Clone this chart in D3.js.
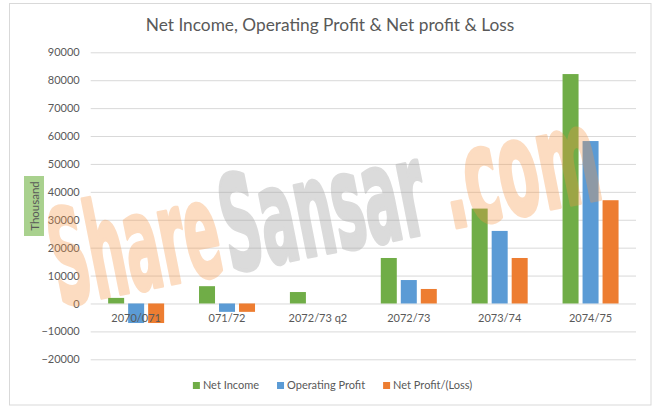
<!DOCTYPE html>
<html>
<head>
<meta charset="utf-8">
<script src="https://cdn.jsdelivr.net/npm/d3@7"></script>
<style>
  body { margin: 0; background: #fff; }
  svg { display: block; font-family: Lato, "Open Sans", sans-serif; }
</style>
</head>
<body>
<svg id="chart"></svg>
<script>
const categories = ["2070/071", "071/72", "2072/73 q2", "2072/73", "2073/74", "2074/75"];
const seriesNames = ["Net Income", "Operating Profit", "Net Profit/(Loss)"];
const netIncome = [2000, 6200, 4100, 16300, 34000, 82200];
const operatingProfit = [-7000, -3000, 0, 8400, 26000, 58200];
const netProfitLoss = [-7000, -3000, 0, 5200, 16300, 37000];
const yTicks = [-20000, -10000, 0, 10000, 20000, 30000, 40000, 50000, 60000, 70000, 80000, 90000];

const colors = ["#70ad47", "#5b9bd5", "#ed7d31"];
const seriesValues = [netIncome, operatingProfit, netProfitLoss];

const width = 660;
const height = 415;
const plot = { left: 90.7, right: 636, top: 52.3, bottom: 359.3 };
const textColor = "#595959";
const gridColor = "#d9d9d9";

const svg = d3.select("#chart")
  .attr("width", width)
  .attr("height", height);

// chart frame
svg.append("rect")
  .attr("x", 9.5)
  .attr("y", 3.5)
  .attr("width", 641.5)
  .attr("height", 401.5)
  .attr("fill", "#fff")
  .attr("stroke", gridColor);

const x = d3.scaleBand()
  .domain(categories)
  .range([plot.left, plot.right]);

const xInner = d3.scaleBand()
  .domain(seriesNames)
  .range([-28, 28])
  .paddingInner(0.2);

const y = d3.scaleLinear()
  .domain([d3.min(yTicks), d3.max(yTicks)])
  .range([plot.bottom, plot.top]);

// gridlines
const grid = svg.append("g")
  .attr("transform", `translate(${plot.left},0)`)
  .call(d3.axisLeft(y).tickValues(yTicks).tickSize(-(plot.right - plot.left)).tickFormat(""));
grid.select(".domain").remove();
grid.selectAll("line").attr("stroke", gridColor);

// y tick labels
const yAxis = svg.append("g")
  .attr("transform", `translate(${plot.left},0)`)
  .call(d3.axisLeft(y).tickValues(yTicks).tickSize(0).tickPadding(11).tickFormat(d3.format("d")));
yAxis.select(".domain").remove();
yAxis.selectAll("text")
  .attr("fill", textColor)
  .style("font-size", "11px")
  .style("font-family", "Lato");

// bars
const bars = [];
categories.forEach((c, i) => {
  seriesNames.forEach((s, j) => {
    bars.push({ category: c, series: s, value: seriesValues[j][i], color: colors[j] });
  });
});

svg.append("g")
  .selectAll("rect")
  .data(bars.filter((d) => d.value !== 0))
  .enter()
  .append("rect")
  .attr("x", (d) => x(d.category) + x.bandwidth() / 2 + xInner(d.series))
  .attr("y", (d) => y(Math.max(0, d.value)))
  .attr("width", xInner.bandwidth())
  .attr("height", (d) => Math.abs(y(d.value) - y(0)))
  .attr("fill", (d) => d.color);

// watermark
const mark = svg.append("g")
  .attr("transform", "translate(60,306) rotate(-11.2)")
  .style("font-family", "'DejaVu Sans Condensed', 'DejaVu Sans', sans-serif")
  .style("font-weight", "bold")
  .style("font-size", "132px");

const markParts = [
  { text: "Share", x: 0, len: 170, fill: "#f79646", opacity: 0.33 },
  { text: "Sansar", x: 174, len: 205, fill: "#a6a6a6", opacity: 0.4 },
  { text: ".com", x: 398, len: 158, fill: "#f79646", opacity: 0.33 }
];
mark.selectAll("text")
  .data(markParts)
  .enter()
  .append("text")
  .attr("x", (d) => d.x)
  .attr("y", 0)
  .attr("textLength", (d) => d.len)
  .attr("lengthAdjust", "spacingAndGlyphs")
  .attr("fill", (d) => d.fill)
  .attr("stroke", (d) => d.fill)
  .attr("stroke-width", 4)
  .attr("stroke-linejoin", "round")
  .attr("opacity", (d) => d.opacity)
  .text((d) => d.text);

// category labels
const xAxis = svg.append("g")
  .attr("transform", `translate(0,${y(0)})`)
  .call(d3.axisBottom(x).tickSize(0).tickPadding(11));
xAxis.select(".domain").remove();
xAxis.selectAll("text")
  .attr("fill", textColor)
  .style("font-size", "11px")
  .style("font-family", "Lato");

// title
svg.append("text")
  .attr("x", 330)
  .attr("y", 31)
  .attr("text-anchor", "middle")
  .attr("fill", textColor)
  .style("font-size", "17.3px")
  .text("Net Income, Operating Profit & Net profit & Loss");

// y axis title
svg.append("rect")
  .attr("x", 24)
  .attr("y", 176)
  .attr("width", 20)
  .attr("height", 60)
  .attr("fill", "#a9d18e");

svg.append("text")
  .attr("transform", "translate(38.5,206) rotate(-90)")
  .attr("text-anchor", "middle")
  .attr("fill", textColor)
  .style("font-size", "11.5px")
  .text("Thousand");

// legend
const legend = svg.append("g").attr("transform", "translate(0,389)");
const items = legend.selectAll("g")
  .data(seriesNames)
  .enter()
  .append("g");

items.append("rect")
  .attr("y", -7)
  .attr("width", 7)
  .attr("height", 7)
  .attr("fill", (d, i) => colors[i]);

items.append("text")
  .attr("x", 10)
  .attr("fill", textColor)
  .style("font-size", "11px")
  .text((d) => d);

const widths = [];
items.each(function () {
  widths.push(10 + this.querySelector("text").getComputedTextLength());
});
const gap = 18;
const total = d3.sum(widths) + gap * (widths.length - 1);
let pos = 332.5 - total / 2;
items.attr("transform", (d, i) => {
  const t = `translate(${pos},0)`;
  pos += widths[i] + gap;
  return t;
});
</script>
</body>
</html>
